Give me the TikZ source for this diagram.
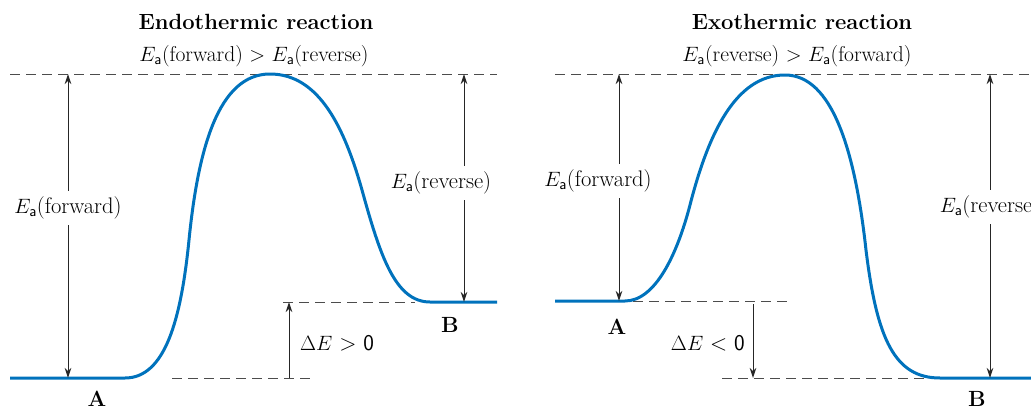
\documentclass[tikz,border=0pt]{standalone}
\usepackage{amsmath}
\usetikzlibrary{arrows.meta}
\definecolor{curveblue}{RGB}{0,114,188}
\newcommand{\Ea}{E_{\textsf{a}}}
\tikzset{
  lvl/.style={draw=black!70, line width=1pt, dash pattern=on 10pt off 6pt},
  curve/.style={draw=curveblue, line width=3pt},
  arr/.style={draw=black!85, line width=1pt, -{Stealth[length=10pt,width=6.5pt]}},
  lab/.style={font=\fontsize{22.5}{26}\selectfont, inner xsep=0pt, inner ysep=6pt},
  ttl/.style={font=\fontsize{22}{26}\selectfont\bfseries, inner sep=0pt},
  sub/.style={font=\fontsize{21.5}{25}\selectfont, inner sep=0pt},
  letter/.style={font=\fontsize{22}{26}\selectfont\bfseries, inner sep=0pt},
}
\begin{document}
\begin{tikzpicture}[x=1pt,y=-1pt]
\useasboundingbox (0,0) rectangle (1031,407);

% ---------- Endothermic ----------
\node[ttl] (t1) at (256,22) {Endothermic reaction};
\node[sub] (s1) at (254,56) {$\Ea$(forward) $>$ $\Ea$(reverse)};

\draw[lvl] (10,74) -- (497,74);
\draw[lvl] (283,302) -- (415,302);
\draw[lvl] (172,378) -- (315,378);

\draw[curve] (10,378) -- (125,378)
  .. controls (165,378) and (181,320) .. (189,240)
  .. controls (198,150) and (218,74) .. (270,74)
  .. controls (320,74) and (345,130) .. (362,190)
  .. controls (380,255) and (395,302) .. (430,302) -- (497,302);

\coordinate (L1top) at (68,74);
\coordinate (L1bot) at (68,378);
\node[lab] (L1lab) at (68,208) {$\Ea$(forward)};
\draw[arr] (L1lab.north) -- (L1top);
\draw[arr] (L1lab.south) -- (L1bot);

\coordinate (L2top) at (464,74);
\coordinate (L2bot) at (464,302);
\node[lab] (L2lab) at (441,183) {$\Ea$(reverse)};
\draw[arr] (L2lab.north -| L2top) -- (L2top);
\draw[arr] (L2lab.south -| L2top) -- (L2bot);

\coordinate (L3bot) at (289,378);
\coordinate (L3top) at (289,302);
\draw[arr] (L3bot) -- (L3top);
\node[lab, anchor=west] (L3lab) at (300,343) {$\Delta E$ \textsf{> 0}};

\node[letter] (A1) at (97,399) {A};
\node[letter] (B1) at (450,325) {B};

% ---------- Exothermic ----------
\node[ttl] (t2) at (802,22) {Exothermic reaction};
\node[sub] (s2) at (797,56) {$\Ea$(reverse) $>$ $\Ea$(forward)};

\draw[lvl] (555,74) -- (1031,74);
\draw[lvl] (633,301) -- (788,301);
\draw[lvl] (722,378) -- (925,378);

\draw[curve] (555,301) -- (625,301)
  .. controls (655,301) and (677,255) .. (690,205)
  .. controls (708,135) and (735,75) .. (785,75)
  .. controls (832,75) and (855,150) .. (866,250)
  .. controls (877,340) and (895,378) .. (940,378) -- (1031,378);

\coordinate (R1top) at (619,74);
\coordinate (R1bot) at (619,301);
\node[lab] (R1lab) at (598,181) {$\Ea$(forward)};
\draw[arr] (R1lab.north -| R1top) -- (R1top);
\draw[arr] (R1lab.south -| R1top) -- (R1bot);

\coordinate (R2top) at (990,74);
\coordinate (R2bot) at (990,378);
\node[lab] (R2lab) at (990,207) {$\Ea$(reverse)};
\draw[arr] (R2lab.north) -- (R2top);
\draw[arr] (R2lab.south) -- (R2bot);

\coordinate (R3top) at (753,304);
\coordinate (R3bot) at (753,378);
\draw[arr] (R3top) -- (R3bot);
\node[lab, anchor=east] (R3lab) at (745,343) {$\Delta E$ \textsf{< 0}};

\node[letter] (A2) at (617,327) {A};
\node[letter] (B2) at (977,399) {B};
\end{tikzpicture}
\end{document}
